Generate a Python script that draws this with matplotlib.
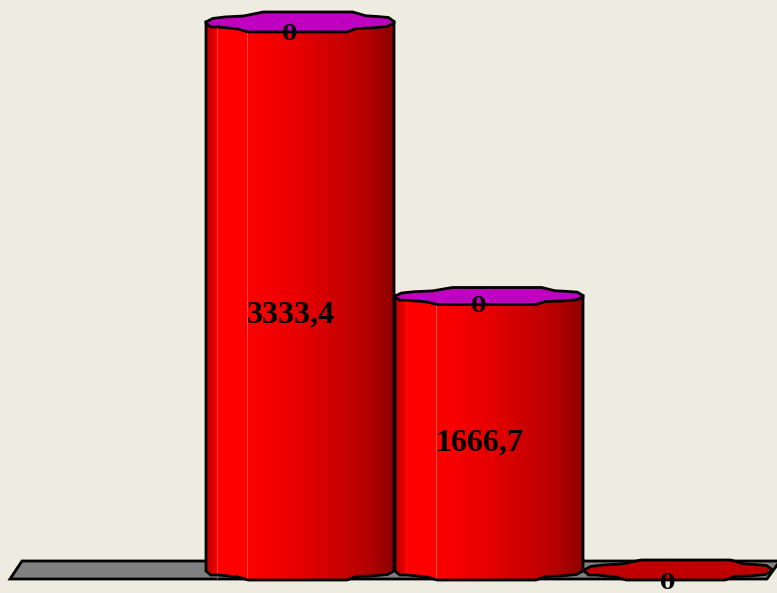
import matplotlib
matplotlib.use('Agg')
import matplotlib.pyplot as plt
import numpy as np
from matplotlib.colors import LinearSegmentedColormap
from matplotlib.patches import Polygon

values = [3333.4, 1666.7, 0]
value_labels = ['3333,4', '1666,7', '']
top_labels = ['0', '0', '0']

# outline of the faceted cylinder end, as fractions of half width / half height
top_x = [-1, -.93, -.8, -.6, -.39, .56, .7, .82, .94, 1]
top_y = [0, .35, .5, .6, 1, 1, .62, .55, .45, .05]
bot_x = [1, .93, .76, .6, .5, -.55, -.66, -.87, -.95, -1]
bot_y = [-.1, -.45, -.6, -.65, -1, -1, -.7, -.5, -.5, -.1]

bg = '#eeebe0'
half_w = 94 / 189
half_h = 10 / 0.1644  # ellipse half height in value units
cap_scale = [1, .85, 1]
zero_drop = [12, 10, 13]  # px below the top of each cylinder

fig = plt.figure(figsize=(7.77, 5.93), dpi=100, facecolor=bg)
ax = fig.add_axes([0, 0, 1, 1])
ax.set_facecolor(bg)
ax.axis('off')
xlim = (-300 / 189, 477 / 189)
ylim = (-23 / 0.1644, 570 / 0.1644)

shade = LinearSegmentedColormap.from_list('shade', [
    (0, '#c00000'), (0.05, '#e80000'), (0.055, '#ff0000'), (0.22, '#ff0000'),
    (0.5, '#e60000'), (0.85, '#b80000'), (1, '#8c0000')])

# floor
floor = Polygon([(-290 / 189, -9 / 0.1644), (-278 / 189, 9 / 0.1644),
                 (480 / 189, 9 / 0.1644), (467 / 189, -9 / 0.1644)],
                closed=True, fc='#808080', ec='black', lw=2, zorder=1)
ax.add_patch(floor)

top_xy = np.column_stack([top_x, top_y])
bot_xy = np.column_stack([bot_x, bot_y])

for i, v in enumerate(values):
    z = 2 + i
    cap_h = half_h * cap_scale[i]
    if v > 0:
        body = [(i - half_w, v), (i + half_w, v)]
        body += [(i + half_w, half_h * .4)]
        body += [(i + half_w * a, half_h * b) for a, b in bot_xy]
        body = Polygon(body, closed=True, fc='none', ec='black', lw=2, zorder=z + .2)
        ax.add_patch(body)
        img = ax.imshow(np.linspace(0, 1, 256).reshape(1, -1), cmap=shade, aspect='auto',
                        extent=(i - half_w, i + half_w, -half_h, v), zorder=z)
        img.set_clip_path(body)
        for f in (-.883, -.564):
            ax.plot([i + half_w * f] * 2, [-half_h * .8, v - half_h * .5],
                    color='#ff8080', lw=.7, alpha=.6 if i == 0 or f == -.564 else .1, zorder=z + .1)
        cap = '#c000c0'
    else:
        cap = '#c00000'
    outline = [(i + half_w * a, v + cap_h * b) for a, b in top_xy]
    outline += [(i + half_w * a, v + cap_h * b) for a, b in bot_xy]
    ax.add_patch(Polygon(outline, closed=True, fc=cap, ec='black', lw=2, zorder=z + .3))

    ax.text(i - 10 / 189, v - zero_drop[i] / 0.1644, top_labels[i], ha='center', va='center',
            family='DejaVu Serif', weight='bold', fontsize=16, color='black', zorder=10)
    if value_labels[i]:
        ax.text(i - 9 / 189, v * .465, value_labels[i], ha='center', va='center',
                family='Liberation Serif', weight='bold', fontsize=23, color='black', zorder=10)

ax.set_xlim(xlim)
ax.set_ylim(ylim)
fig.savefig('out.png', dpi=100, facecolor=bg)
